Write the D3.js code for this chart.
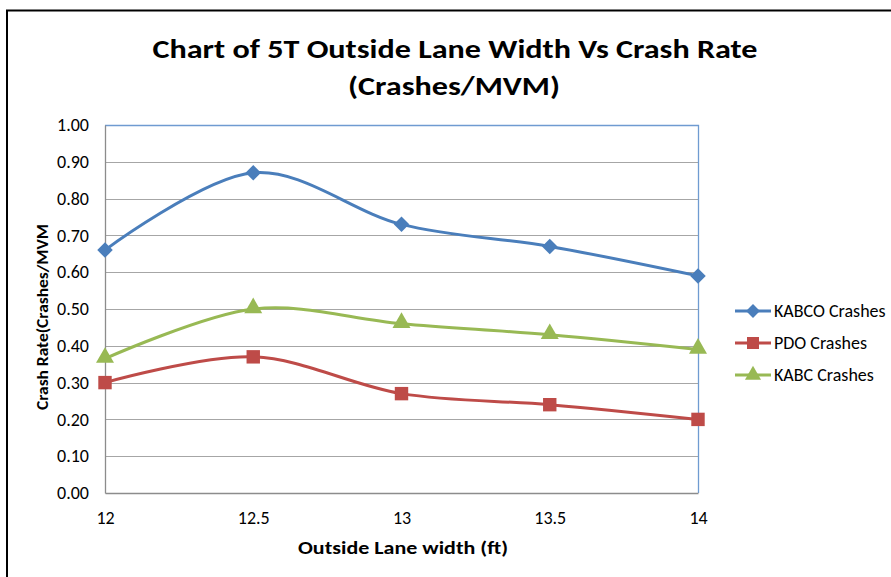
<!DOCTYPE html>
<html>
<head>
<meta charset="utf-8">
<script src="https://cdnjs.cloudflare.com/ajax/libs/d3/7.8.5/d3.min.js"></script>
<style>
  body { margin: 0; background: #fff; }
  text { font-family: Calibri, Carlito, "Open Sans", "Liberation Sans", sans-serif; }
</style>
</head>
<body>
<div id="chart"></div>
<script>
var width = 891,
    height = 577;

// chart data
var widths = [12, 12.5, 13, 13.5, 14];
var kabco = [0.66, 0.87, 0.73, 0.67, 0.59];
var pdo = [0.30, 0.37, 0.27, 0.24, 0.20];
var kabc = [0.365, 0.50, 0.46, 0.43, 0.39];
var seriesNames = ["KABCO Crashes", "PDO Crashes", "KABC Crashes"];
var yTicks = [0, 0.1, 0.2, 0.3, 0.4, 0.5, 0.6, 0.7, 0.8, 0.9, 1.0];

// diamond = square turned 45deg
var series = [
    { name: seriesNames[0], values: kabco, color: "#4a7ebb", symbol: d3.symbolSquare, size: 120, rot: 45 },
    { name: seriesNames[1], values: pdo, color: "#be4b48", symbol: d3.symbolSquare, size: 180, rot: 0 },
    { name: seriesNames[2], values: kabc, color: "#98b954", symbol: d3.symbolTriangle, size: 140, rot: 0 }
];

var margin = { left: 105, right: 193, top: 125, bottom: 84 };
var plotW = width - margin.left - margin.right,
    plotH = height - margin.top - margin.bottom;

var svg = d3.select("#chart")
    .append("svg")
    .attr("width", width)
    .attr("height", height);

// outer chart border (runs off the right and bottom)
svg.append("rect")
    .attr("x", 7)
    .attr("y", 10.5)
    .attr("width", 1000)
    .attr("height", 1000)
    .attr("fill", "none")
    .attr("stroke", "#000")
    .attr("stroke-width", 2);

// title
var title = svg.append("g")
    .attr("font-weight", "bold")
    .attr("fill", "#000")
    .attr("text-anchor", "middle");
title.append("text")
    .attr("x", 455).attr("y", 58)
    .attr("font-size", 26)
    .attr("textLength", 605)
    .attr("lengthAdjust", "spacingAndGlyphs")
    .text("Chart of 5T Outside Lane Width Vs Crash Rate");
title.append("text")
    .attr("x", 454).attr("y", 95)
    .attr("font-size", 26)
    .attr("textLength", 212)
    .attr("lengthAdjust", "spacingAndGlyphs")
    .text("(Crashes/MVM)");

var x = d3.scaleLinear().domain([12, 14]).range([0, plotW]);
var y = d3.scaleLinear().domain([0, 1]).range([plotH, 0]);

var g = svg.append("g")
    .attr("transform", "translate(" + margin.left + "," + margin.top + ")");

// gridlines
g.append("g")
    .selectAll("line")
    .data(yTicks.slice(1, -1))
    .enter().append("line")
    .attr("x1", 0).attr("x2", plotW)
    .attr("y1", function (d) { return Math.round(y(d)) + 0.5; })
    .attr("y2", function (d) { return Math.round(y(d)) + 0.5; })
    .attr("stroke", "#a6a6a6")
    .attr("stroke-width", 1);

// plot area border top/right (blue)
g.append("path")
    .attr("d", "M0,0.5H" + (plotW + 0.5) + "V" + plotH)
    .attr("fill", "none")
    .attr("stroke", "#6f9bd1")
    .attr("stroke-width", 1.3);

// y axis
var yAxis = g.append("g")
    .call(d3.axisLeft(y).tickValues(yTicks).tickSize(0).tickPadding(16)
        .tickFormat(d3.format(".2f")));
yAxis.select(".domain").attr("stroke", "#8c8c8c").attr("stroke-width", 1.3);
yAxis.selectAll("text")
    .attr("fill", "#000")
    .style("font-size", "18px");

// x axis
var xAxis = g.append("g")
    .attr("transform", "translate(0," + plotH + ")")
    .call(d3.axisBottom(x).tickValues(widths).tickSize(0).tickPadding(18)
        .tickFormat(function (d) { return String(d); }));
xAxis.select(".domain").attr("stroke", "#8c8c8c").attr("stroke-width", 1.3);
xAxis.selectAll("text")
    .attr("fill", "#000")
    .style("font-size", "18px");

// axis titles
svg.append("text")
    .attr("x", 403).attr("y", 554)
    .attr("text-anchor", "middle")
    .attr("font-weight", "bold")
    .attr("font-size", 18)
    .attr("textLength", 210)
    .attr("lengthAdjust", "spacingAndGlyphs")
    .text("Outside Lane width (ft)");

svg.append("text")
    .attr("transform", "translate(48,317) rotate(-90)")
    .attr("text-anchor", "middle")
    .attr("font-weight", "bold")
    .attr("font-size", 15.5)
    .attr("textLength", 186)
    .attr("lengthAdjust", "spacingAndGlyphs")
    .text("Crash Rate(Crashes/MVM");

// lines (smoothed like the spreadsheet)
var line = d3.line()
    .x(function (d, i) { return x(widths[i]); })
    .y(function (d) { return y(d); })
    .curve(d3.curveCardinal.tension(0));

series.forEach(function (s) {
    g.append("path")
        .attr("d", line(s.values))
        .attr("fill", "none")
        .attr("stroke", s.color)
        .attr("stroke-width", 3);

    g.append("g")
        .selectAll("path")
        .data(s.values)
        .enter().append("path")
        .attr("transform", function (d, i) {
            var dy = s.symbol === d3.symbolTriangle ? -1 : 0;
            return "translate(" + x(widths[i]) + "," + (y(d) + dy) + ") rotate(" + s.rot + ")";
        })
        .attr("d", d3.symbol().type(s.symbol).size(s.size))
        .attr("fill", s.color);
});

// legend
var legend = svg.append("g")
    .attr("transform", "translate(735,311)");
var item = legend.selectAll("g")
    .data(series)
    .enter().append("g")
    .attr("transform", function (d, i) { return "translate(0," + (i * 32) + ")"; });
item.append("line")
    .attr("x1", 0).attr("x2", 36)
    .attr("stroke", function (d) { return d.color; })
    .attr("stroke-width", 3);
item.append("path")
    .attr("transform", function (d) { return "translate(18,0) rotate(" + d.rot + ")"; })
    .attr("d", function (d) { return d3.symbol().type(d.symbol).size(d.size * 0.8)(); })
    .attr("fill", function (d) { return d.color; });
item.append("text")
    .attr("x", 39).attr("y", 6)
    .style("font-size", "18px")
    .attr("fill", "#000")
    .text(function (d) { return d.name; });
</script>
</body>
</html>
